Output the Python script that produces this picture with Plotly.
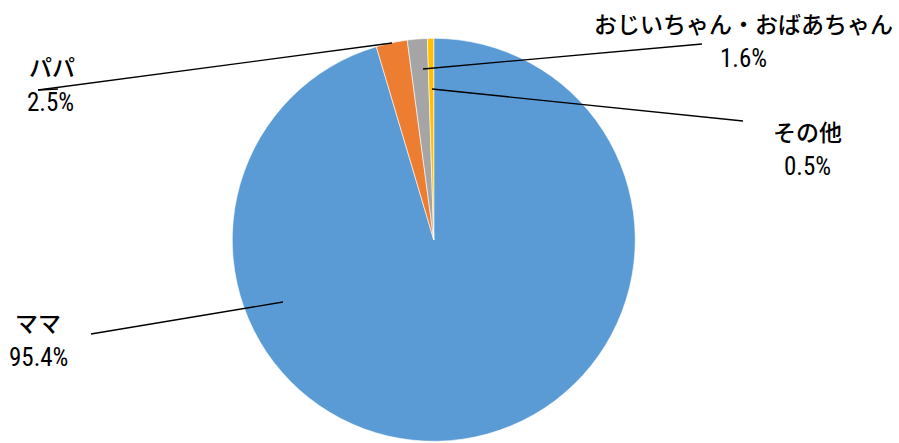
import plotly.graph_objects as go

labels = ["ママ", "パパ", "おじいちゃん・おばあちゃん", "その他"]
values = [95.4, 2.5, 1.6, 0.5]
pct_text = ["95.4%", "2.5%", "1.6%", "0.5%"]
colors = ["#5B9BD5", "#ED7D31", "#A5A5A5", "#FFC000"]

W, H = 899, 443

def px(x, y):
    return x / W, 1 - y / H

x0d, y1d = px(231.5, 38.3)
x1d, y0d = px(636, 441.3)

fig = go.Figure(go.Pie(
    labels=labels, values=values, sort=False, direction="clockwise", rotation=0,
    marker=dict(colors=colors, line=dict(color="white", width=0.6)),
    textinfo="none", hoverinfo="label+percent", showlegend=False,
    domain=dict(x=[x0d, x1d], y=[y0d, y1d]),
))

label_pos = [((38, 322), (38, 357)), ((52, 66), (50, 103)), ((743, 23), (743, 58)), ((807, 131), (807, 166))]
leaders = [[(283, 302), (91, 334)],
           [(392, 43), (38, 90), (58, 89)],
           [(423, 69), (702, 44)],
           [(432, 89), (743, 121)]]

name_font = dict(family="Noto Sans CJK JP", size=23, color="#000000", weight=500)
pct_font = dict(family="Liberation Sans Narrow, Roboto Condensed, Noto Sans CJK JP", size=25, color="#000000")

anns = []
for (npos, ppos), name, pt in zip(label_pos, labels, pct_text):
    x, y = px(*npos)
    anns.append(dict(x=x, y=y, xref="paper", yref="paper", text=name, showarrow=False,
                     xanchor="center", yanchor="middle", font=name_font))
    x, y = px(*ppos)
    anns.append(dict(x=x, y=y, xref="paper", yref="paper", text=pt, showarrow=False,
                     xanchor="center", yanchor="middle", font=pct_font))

shapes = []
for pts in leaders:
    for (xa, ya), (xb, yb) in zip(pts[:-1], pts[1:]):
        a, b = px(xa, ya)
        c, d = px(xb, yb)
        shapes.append(dict(type="line", xref="paper", yref="paper", x0=a, y0=b, x1=c, y1=d,
                           line=dict(color="#000000", width=1.3)))

fig.update_layout(width=W, height=H, margin=dict(l=0, r=0, t=0, b=0),
                  paper_bgcolor="white", plot_bgcolor="white",
                  annotations=anns, shapes=shapes)
fig.write_html("out.html", config={"displayModeBar": False},
               post_script="document.body.style.margin='0';document.body.style.overflow='hidden';")
